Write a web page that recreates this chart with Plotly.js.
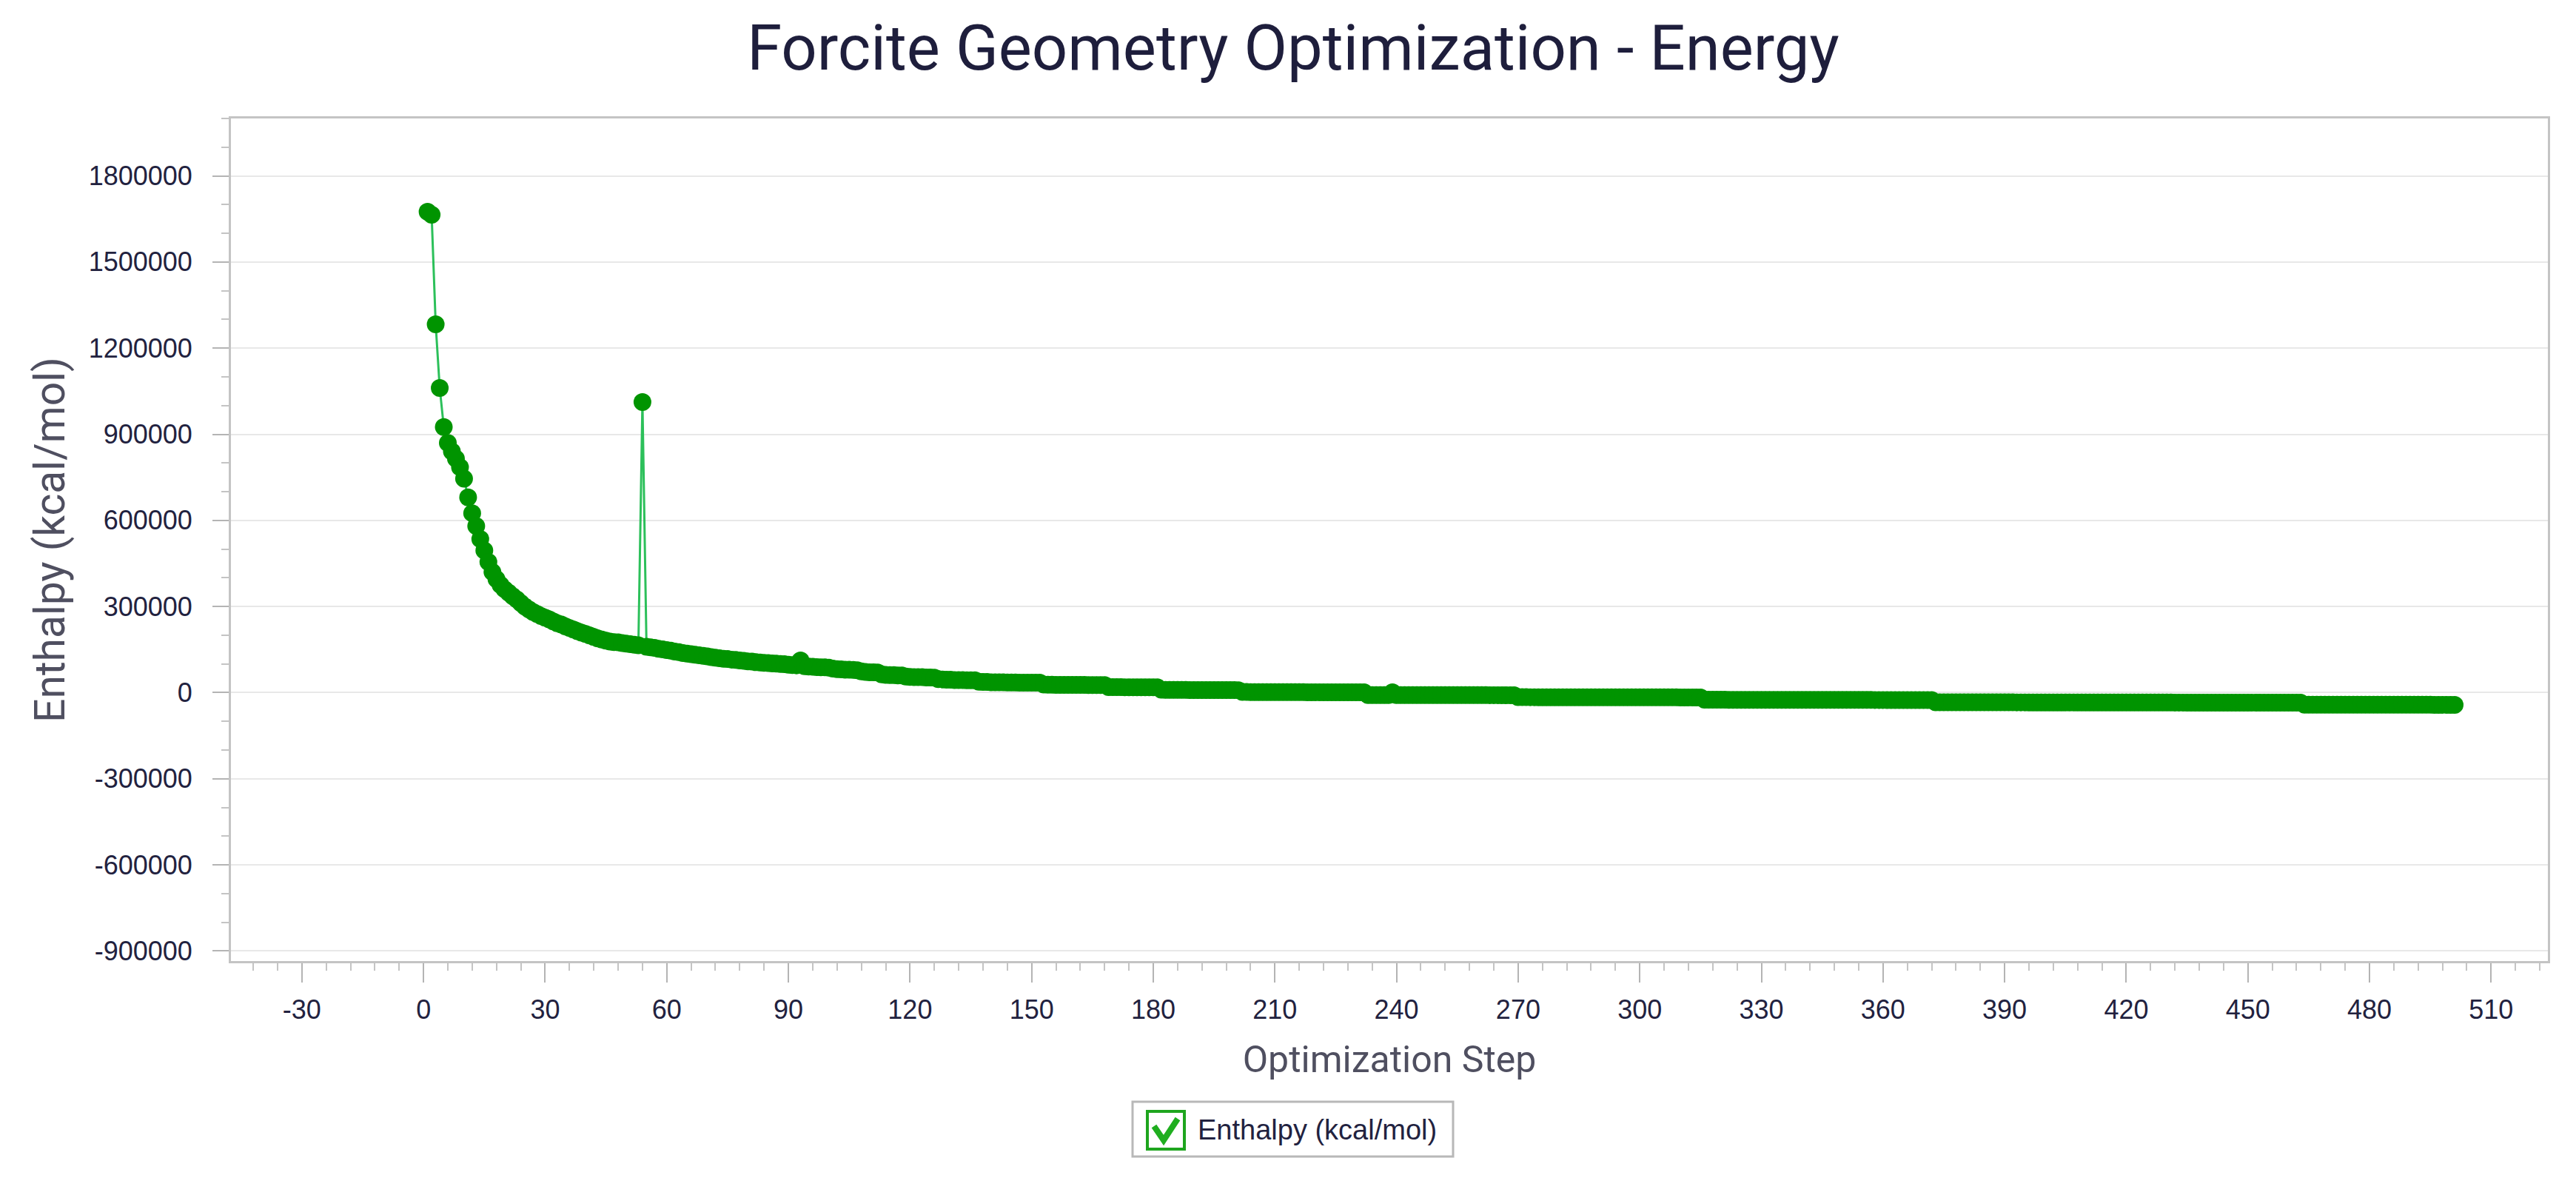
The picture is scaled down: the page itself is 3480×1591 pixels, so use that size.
<!DOCTYPE html>
<html><head><meta charset="utf-8">
<script src="https://cdn.plot.ly/plotly-3.0.1.min.js"></script>
<style>html,body{margin:0;padding:0;background:#fff}</style>
</head><body><div id="chart" style="width:3480px;height:1591px"></div>
<script>
// ---- data ----
const chartTitle = "Forcite Geometry Optimization - Energy";
const seriesName = "Enthalpy (kcal/mol)";
const xTitle = "Optimization Step";
const yTitle = "Enthalpy (kcal/mol)";
const firstStep = 1;
const xTickVals = [-30, 0, 30, 60, 90, 120, 150, 180, 210, 240, 270, 300, 330, 360, 390, 420, 450, 480, 510];
const yTickVals = [-900000, -600000, -300000, 0, 300000, 600000, 900000, 1200000, 1500000, 1800000];
// enthalpy per optimization step (steps 1..501)
const enthalpy = [
  1675000, 1665000, 1283000, 1061000, 925000, 870000, 840000, 815000, 785000, 745000,
  680000, 625000, 580000, 535000, 495000, 455000, 420000, 395000, 375000, 360000,
  348000, 336000, 325000, 312000, 300000, 290000, 281000, 274000, 267000, 261000,
  255000, 248000, 242000, 237000, 231000, 225000, 220000, 214000, 209000, 204000,
  199000, 194000, 189000, 185000, 181000, 178000, 176000, 175000, 173000, 171000,
  169000, 167000, 165000, 1012000, 160000, 158000, 156000, 153000, 151000, 148000,
  146000, 143000, 141000, 138000, 136000, 134000, 132000, 130000, 128000, 126000,
  124000, 122000, 120000, 118000, 117000, 115000, 114000, 112000, 111000, 109000,
  108000, 106000, 105000, 104000, 103000, 102000, 101000, 100000, 99000, 97000,
  96000, 95000, 112000, 92000, 91000, 90000, 89000, 88000, 88000, 87000,
  84000, 82000, 81000, 80000, 80000, 79000, 78000, 74000, 72000, 71000,
  71000, 70000, 64000, 62000, 61000, 61000, 60000, 60000, 56000, 55000,
  54000, 54000, 54000, 53000, 53000, 52000, 47000, 46000, 45000, 45000,
  44000, 44000, 44000, 43000, 43000, 43000, 38000, 37000, 37000, 36000,
  36000, 36000, 36000, 35500, 35500, 35500, 35000, 35000, 35000, 35000,
  34800, 34800, 28000, 27500, 27500, 27200, 27200, 27000, 27000, 27000,
  26800, 26800, 26800, 26600, 26600, 26500, 26500, 26400, 19500, 19200,
  19000, 19000, 18800, 18800, 18600, 18600, 18500, 18500, 18400, 18400,
  18300, 10000, 9600, 9500, 9400, 9400, 9300, 9300, 9200, 9200,
  9100, 9100, 9000, 9000, 8900, 8900, 8800, 8800, 8700, 8700,
  8600, 2500, 2200, 2100, 2000, 2000, 1900, 1900, 1800, 1800,
  1800, 1700, 1700, 1700, 1600, 1600, 1600, 1500, 1500, 1500,
  1400, 1400, 1400, 1300, 1300, 1300, 1200, 1200, 1200, 1100,
  1100, 1000, -8300, -8300, -8350, -8350, -8400, -8400, 1500, -8400,
  -8400, -8400, -8450, -8450, -8500, -8500, -8500, -8550, -8550, -8550,
  -8600, -8600, -8600, -8650, -8650, -8650, -8700, -8700, -8700, -8750,
  -8750, -8750, -8800, -8800, -8800, -8850, -8850, -8900, -8900, -15800,
  -15850, -15850, -15900, -15900, -15950, -15950, -16000, -16000, -16000, -16050,
  -16050, -16050, -16100, -16100, -16100, -16150, -16150, -16150, -16200, -16200,
  -16200, -16250, -16250, -16250, -16300, -16300, -16300, -16350, -16350, -16350,
  -16400, -16400, -16400, -16450, -16450, -16450, -16500, -16500, -16500, -16550,
  -16550, -16550, -16600, -16600, -16600, -24800, -24800, -24850, -24850, -24900,
  -24900, -24950, -24950, -24950, -25000, -25000, -25000, -25050, -25050, -25050,
  -25100, -25100, -25100, -25150, -25150, -25150, -25200, -25200, -25200, -25250,
  -25250, -25250, -25300, -25300, -25300, -25350, -25350, -25350, -25400, -25400,
  -25400, -25450, -25450, -25450, -25500, -25500, -25500, -25550, -25550, -25550,
  -25600, -25600, -25600, -25650, -25650, -25650, -25700, -25700, -25700, -25750,
  -25750, -25750, -33600, -33600, -33650, -33650, -33650, -33700, -33700, -33700,
  -33750, -33750, -33750, -33800, -33800, -33800, -33850, -33850, -33850, -33900,
  -33900, -33900, -33950, -33950, -33950, -34000, -34000, -34000, -34050, -34050,
  -34050, -34100, -34100, -34100, -34150, -34150, -34150, -34200, -34200, -34200,
  -34250, -34250, -34250, -34300, -34300, -34300, -34350, -34350, -34350, -34400,
  -34400, -34400, -34450, -34450, -34450, -34500, -34500, -34500, -34550, -34550,
  -34550, -34600, -34600, -34600, -34650, -34650, -34650, -34700, -34700, -34700,
  -34750, -34750, -34750, -34800, -34800, -34800, -34850, -34850, -34850, -34900,
  -34900, -34900, -34950, -34950, -34950, -35000, -35000, -35000, -35050, -35050,
  -35050, -35100, -35100, -41800, -41800, -41850, -41850, -41850, -41900, -41900,
  -41900, -41950, -41950, -41950, -42000, -42000, -42000, -42050, -42050, -42050,
  -42100, -42100, -42100, -42150, -42150, -42150, -42200, -42200, -42200, -42250,
  -42250, -42250, -42300, -42300, -42300, -42350, -42350, -42350, -42400, -42400,
  -42400
];

// ---- layout geometry (pixels) ----
const W = 3480, H = 1591;
const L = 312, R = 3442, T = 160, B = 1298;
const px2x = px => (px - L) / (R - L);
const py2y = py => (B - py) / (B - T);

const textDark = '#22223f';
const axisTitleColor = '#4f4f60';
const tickFont = {family: 'Liberation Sans, Arial, sans-serif', size: 36, color: textDark};

const trace = {
  type: 'scatter', mode: 'lines+markers', name: seriesName,
  x0: firstStep, dx: 1, y: enthalpy,
  line: {color: '#2cc05a', width: 3},
  marker: {color: '#009400', size: 24},
  showlegend: false, hoverinfo: 'skip'
};

const layout = {
  width: W, height: H,
  paper_bgcolor: '#ffffff', plot_bgcolor: '#ffffff',
  margin: {l: L, r: W - R, t: T, b: H - B, pad: 0},
  showlegend: false,
  title: {
    text: chartTitle, xref: 'container', x: 0.502, xanchor: 'center',
    yref: 'container', y: 1 - 64 / H, yanchor: 'middle',
    font: {family: 'Roboto, Liberation Sans, sans-serif', size: 85, color: '#1e1e3c'}
  },
  xaxis: {
    range: [-47.5, 524], tickmode: 'array', tickvals: xTickVals,
    ticktext: xTickVals.map(String),
    ticks: 'outside', ticklen: 26, tickwidth: 2, tickcolor: '#b4b4b4',
    minor: {dtick: 6, tick0: 0, ticks: 'outside', ticklen: 10, tickwidth: 2, tickcolor: '#c4c4c4', showgrid: false},
    showgrid: false, zeroline: false,
    showline: true, linecolor: '#c4c4c4', linewidth: 3, mirror: true,
    tickfont: tickFont, ticklabelstandoff: 6,
    title: {text: xTitle, standoff: 30, font: {family: 'Roboto, Liberation Sans, sans-serif', size: 50, color: axisTitleColor}}
  },
  yaxis: {
    range: [-935000, 2000000], tickmode: 'array', tickvals: yTickVals,
    ticktext: yTickVals.map(String),
    ticks: 'outside', ticklen: 22, tickwidth: 2, tickcolor: '#b4b4b4',
    minor: {dtick: 100000, tick0: 0, ticks: 'outside', ticklen: 10, tickwidth: 2, tickcolor: '#c4c4c4', showgrid: false},
    showgrid: true, gridcolor: '#e8e8e8', gridwidth: 2, zeroline: false,
    showline: true, linecolor: '#c4c4c4', linewidth: 3, mirror: true,
    tickfont: tickFont, ticklabelstandoff: 20,
    title: {text: yTitle, standoff: 14, font: {family: 'Roboto, Liberation Sans, sans-serif', size: 57, color: axisTitleColor}}
  },
  shapes: [
    // legend frame
    {type: 'rect', xref: 'paper', yref: 'paper', x0: px2x(1530), x1: px2x(1963), y0: py2y(1562), y1: py2y(1488),
     line: {color: '#b8b8b8', width: 3}, fillcolor: '#ffffff', layer: 'above'},
    // checkbox
    {type: 'rect', xref: 'paper', yref: 'paper', x0: px2x(1550), x1: px2x(1600), y0: py2y(1552), y1: py2y(1501),
     line: {color: '#1ea51e', width: 4}, fillcolor: '#ffffff', layer: 'above'},
    // check mark
    {type: 'path', xref: 'paper', yref: 'paper',
     path: 'M ' + px2x(1559) + ' ' + py2y(1521) + ' L ' + px2x(1572) + ' ' + py2y(1540) + ' L ' + px2x(1591) + ' ' + py2y(1511),
     line: {color: '#1fae1f', width: 8}, layer: 'above'}
  ],
  annotations: [
    {text: seriesName, xref: 'paper', yref: 'paper', x: px2x(1616), y: py2y(1526),
     xanchor: 'left', yanchor: 'middle', showarrow: false,
     font: {family: 'Liberation Sans, Arial, sans-serif', size: 38, color: textDark}}
  ]
};

Plotly.newPlot('chart', [trace], layout, {displayModeBar: false, staticPlot: true});
</script>
</body></html>
